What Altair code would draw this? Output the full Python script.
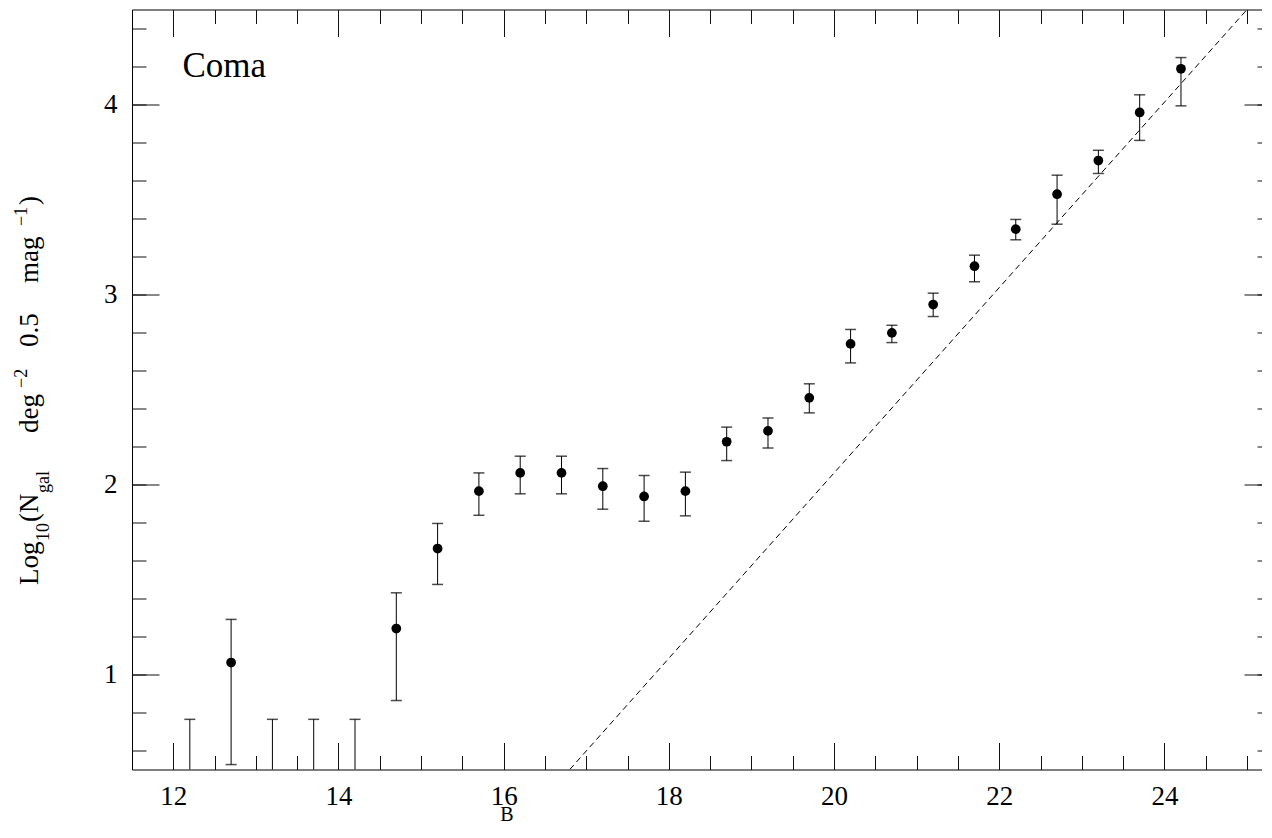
import altair as alt
import pandas as pd

# ---- data ----
mag = [12.7, 14.7, 15.2, 15.7, 16.2, 16.7, 17.2, 17.7, 18.2, 18.7, 19.2,
       19.7, 20.2, 20.7, 21.2, 21.7, 22.2, 22.7, 23.2, 23.7, 24.2]
logN = [1.063, 1.242, 1.663, 1.965, 2.061, 2.061, 1.991, 1.937, 1.965, 2.225, 2.282,
        2.456, 2.740, 2.798, 2.947, 3.149, 3.344, 3.528, 3.705, 3.958, 4.188]
err_lo = [0.526, 0.863, 1.474, 1.838, 1.951, 1.951, 1.870, 1.807, 1.835, 2.126, 2.192,
          2.377, 2.640, 2.747, 2.884, 3.067, 3.288, 3.370, 3.637, 3.811, 3.993]
err_hi = [1.290, 1.430, 1.795, 2.061, 2.149, 2.149, 2.084, 2.047, 2.065, 2.302, 2.350,
          2.530, 2.816, 2.838, 3.007, 3.207, 3.395, 3.628, 3.759, 4.051, 4.247]

ul_mag = [12.2, 13.2, 13.7, 14.2]
ul_lo = [0.5, 0.5, 0.5, 0.5]
ul_hi = [0.764, 0.764, 0.764, 0.764]

fit_B = [16.8, 25.0]
fit_logN = [0.5, 4.5]

x_major = [12, 14, 16, 18, 20, 22, 24]
x_minor = [12.0, 12.5, 13.0, 13.5, 14.0, 14.5, 15.0, 15.5, 16.0, 16.5, 17.0, 17.5,
           18.0, 18.5, 19.0, 19.5, 20.0, 20.5, 21.0, 21.5, 22.0, 22.5, 23.0, 23.5,
           24.0, 24.5, 25.0]
y_major = [1, 2, 3, 4]
y_minor = [0.6, 0.8, 1.0, 1.2, 1.4, 1.6, 1.8, 2.0, 2.2, 2.4, 2.6, 2.8, 3.0, 3.2,
           3.4, 3.6, 3.8, 4.0, 4.2, 4.4]

FONT = "Liberation Serif"

pts = pd.DataFrame({"B": mag, "logN": logN, "lo": err_lo, "hi": err_hi})
ul = pd.DataFrame({"B": ul_mag, "lo": ul_lo, "hi": ul_hi})
fit = pd.DataFrame({"B": fit_B, "logN": fit_logN})

xs = alt.Scale(domain=[11.5, 25.29], nice=False, zero=False)
ys = alt.Scale(domain=[0.5, 4.5], nice=False, zero=False)


def ax(orient, values, size, labels, pad=14):
    kw = dict(orient=orient, values=values, tickSize=size, offset=-size,
              domain=False, grid=False, title=None, labels=labels,
              tickColor="#111", tickWidth=1)
    if labels:
        kw.update(labelFont=FONT, labelFontSize=27, labelColor="black",
                  labelPadding=pad, labelFlush=False, labelOverlap=False, format="d")
    return alt.Axis(**kw)


# points, carrying the major bottom/left axes
points = alt.Chart(pts).mark_circle(size=95, color="black", opacity=1).encode(
    x=alt.X("B:Q", scale=xs, axis=ax("bottom", x_major, 27, True, 14)),
    y=alt.Y("logN:Q", scale=ys, axis=ax("left", y_major, 27, True, 15)),
)

# error bars, carrying minor bottom/left axes
bars = alt.Chart(pts).mark_rule(color="black", strokeWidth=1).encode(
    x=alt.X("B:Q", scale=xs, axis=ax("bottom", x_minor, 14, False)),
    y=alt.Y("lo:Q", scale=ys, axis=ax("left", y_minor, 14, False)),
    y2="hi:Q",
)

# caps, carrying the top/right axes
cap_hi = alt.Chart(pts).mark_tick(orient="horizontal", size=11, thickness=1.5, color="black").encode(
    x=alt.X("B:Q", scale=xs, axis=ax("top", x_major, 27, False)),
    y=alt.Y("hi:Q", scale=ys, axis=ax("right", y_major, 27, False)),
)
cap_lo = alt.Chart(pts).mark_tick(orient="horizontal", size=11, thickness=1.5, color="black").encode(
    x=alt.X("B:Q", scale=xs, axis=ax("top", x_minor, 14, False)),
    y=alt.Y("lo:Q", scale=ys, axis=ax("right", y_minor, 14, False)),
)

ul_bars = alt.Chart(ul).mark_rule(color="black", strokeWidth=1).encode(
    x=alt.X("B:Q", scale=xs, axis=None),
    y=alt.Y("lo:Q", scale=ys, axis=None),
    y2="hi:Q",
)
ul_caps = alt.Chart(ul).mark_tick(orient="horizontal", size=11, thickness=1.5, color="black").encode(
    x=alt.X("B:Q", scale=xs, axis=None),
    y=alt.Y("hi:Q", scale=ys, axis=None),
)

fit_line = alt.Chart(fit).mark_line(color="black", strokeWidth=1, strokeDash=[6, 4], clip=True).encode(
    x=alt.X("B:Q", scale=xs, axis=None),
    y=alt.Y("logN:Q", scale=ys, axis=None),
)

label_df = pd.DataFrame({"B": [12.11], "logN": [4.146], "t": ["Coma"]})
coma = alt.Chart(label_df).mark_text(align="left", baseline="alphabetic", font=FONT,
                                     fontSize=35, color="black").encode(
    x=alt.X("B:Q", scale=xs, axis=None),
    y=alt.Y("logN:Q", scale=ys, axis=None),
    text="t:N",
)

one = pd.DataFrame({"a": [0]})
OX, OY = 132, 9.5  # page position of the plot origin
title_pieces = [
    ("Log", 27, 38, 585),
    ("10", 18, 49, 541),
    ("(N", 27, 38, 522),
    ("gal", 18, 49, 493),
    ("deg", 27, 38, 433),
    ("\u22122", 18, 27, 388),
    ("0.5", 27, 38, 347),
    ("mag", 27, 38, 283),
    ("\u22121", 18, 27, 226),
    (")", 27, 38, 205),
]
title_layers = []
for txt, fs, bx, sy in title_pieces:
    title_layers.append(
        alt.Chart(one).mark_text(align="left", baseline="alphabetic", angle=270,
                                 font=FONT, fontSize=fs, color="black").encode(
            x=alt.value(bx - OX), y=alt.value(sy - OY), text=alt.value(txt))
    )

xtitle = alt.Chart(one).mark_text(align="center", baseline="alphabetic", font=FONT,
                                  fontSize=20, color="black").encode(
    x=alt.value(507 - OX), y=alt.value(821 - OY), text=alt.value("B"))

chart = alt.layer(
    points, bars, cap_hi, cap_lo, ul_bars, ul_caps, fit_line, coma, xtitle, *title_layers
).resolve_axis(x="independent", y="independent").properties(
    width=1139, height=760,
    padding={"left": 124, "top": 1.5, "right": -9, "bottom": 56},
    autosize=alt.AutoSizeParams(type="none"),
).configure_view(stroke="black", strokeWidth=1)

chart.save("out.html", embed_options={"renderer": "svg", "actions": False})
